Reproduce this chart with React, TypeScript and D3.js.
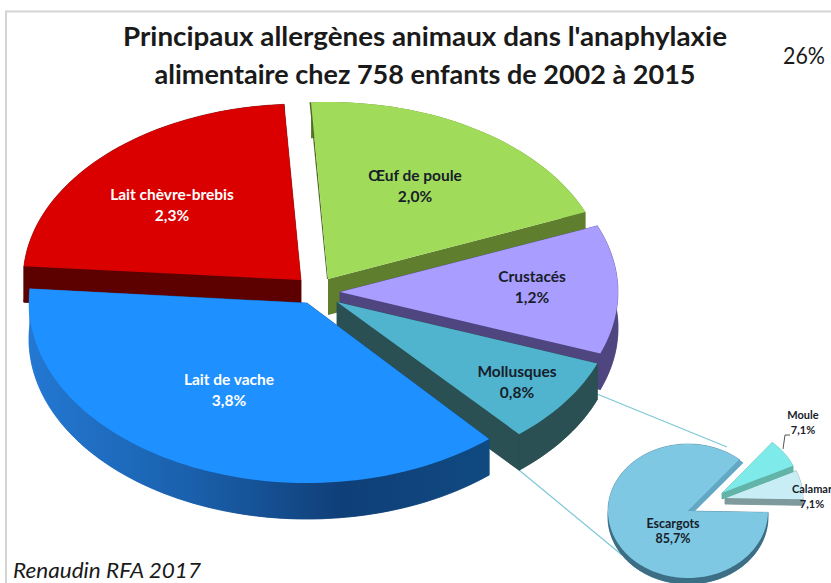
import React from "react";
import * as d3 from "d3";

const titleLines = ["Principaux allergènes animaux dans l'anaphylaxie", "alimentaire chez 758 enfants de 2002 à 2015"];
const cornerNote = "26%";
const sourceNote = "Renaudin RFA 2017";

const mainNames = ["Œuf de poule", "Crustacés", "Mollusques", "Lait de vache", "Lait chèvre-brebis"];
const mainValues = [2.0, 1.2, 0.8, 3.8, 2.3];
const mainLabels = ["2,0%", "1,2%", "0,8%", "3,8%", "2,3%"];

const subNames = ["Moule", "Calamar", "Escargots"];
const subValues = [7.1, 7.1, 85.7];
const subLabels = ["7,1%", "7,1%", "85,7%"];

// appearance, one entry per slice
const mainTop = ["#a0dc5a", "#a99dff", "#50b4cf", "#1e90ff", "#da0000"];
const mainWall = ["#5f7f2e", "#4f4680", "#2a5053", "url(#blueWall)", "#5c0000"];
const mainInk = ["#17202a", "#17202a", "#17202a", "#ffffff", "#ffffff"];
const subTop = ["#7feaea", "#c8edf5", "#7ec8e3"];
const subWall = ["#62b3a8", "#7f9a9c", "#3c6e86"];

// layout
const mainApex = [[328, 279], [340, 292], [337, 302], [307, 303], [301, 280]];
const mainRy = [177, 175, 175, 180, 176];
const mainLabelAt = [[415, 181], [532, 282], [517, 377], [229, 385], [172, 200]];
const subApex = [[722, 493], [725, 498], [688, 511]];
const subLabelAt = [[803, 419], [812, 493], [673, 528]];
const mainDrawOrder = [4, 0, 1, 2, 3];
const subDrawOrder = [2, 1, 0];

type Pt = [number, number];
const rad = (d: number) => (d * Math.PI) / 180;

function shape(apex: number[], a0: number, a1: number, rx: number, ry: number) {
  const n = Math.max(8, Math.ceil(Math.abs(a1 - a0) / 0.03));
  const arc: Pt[] = d3.range(n + 1).map((i) => {
    const t = a0 + ((a1 - a0) * i) / n;
    return [apex[0] + rx * Math.sin(t), apex[1] - ry * Math.cos(t)] as Pt;
  });
  return { arc, apex: apex as Pt };
}
const line = d3.line<Pt>().curve(d3.curveLinear);
const shift = (p: Pt[], dy: number): Pt[] => p.map(([x, y]) => [x, y + dy] as Pt);

function Wedge({ s, depth, top, wall, edge, sideOnly }: any) {
  const wedge: Pt[] = [s.apex, ...s.arc];
  const lower = shift(wedge, depth);
  const last = s.arc[s.arc.length - 1];
  const band: Pt[] = [...s.arc, ...shift(s.arc, depth).reverse()];
  const e0: Pt[] = [s.apex, s.arc[0], shift([s.arc[0]], depth)[0], shift([s.apex], depth)[0]];
  const e1: Pt[] = [s.apex, last, shift([last], depth)[0], shift([s.apex], depth)[0]];
  const faces = sideOnly ? [band, e1] : [lower, band, e0, e1];
  return (
    <g>
      {faces.map((p, i) => (
        <path key={i} d={line(p) + "Z"} fill={wall} stroke={sideOnly ? "none" : wall} strokeWidth={0.5} />
      ))}
      {sideOnly ? (
        <path d={line([[s.apex[0] - 1, s.apex[1]], [s.arc[0][0] - 1.5, s.arc[0][1]], s.arc[0], s.apex])! + "Z"} fill="#4f6b26" />
      ) : null}
      {edge ? (
        <path d={line([s.apex, last, [last[0] + 4, last[1] + 3], [s.apex[0] + 4, s.apex[1] + 3]])! + "Z"} fill={edge} />
      ) : null}
      <path d={line(wedge) + "Z"} fill={top} />
    </g>
  );
}

function Label({ at, name, value, size, gap, ink }: any) {
  return (
    <text x={at[0]} y={at[1]} textAnchor="middle" fontFamily="Lato, 'Open Sans', sans-serif" fontWeight={700} fontSize={size} fill={ink}>
      <tspan x={at[0]}>{name}</tspan>
      <tspan x={at[0]} dy={gap}>{value}</tspan>
    </text>
  );
}

export default function App() {
  const main = d3.pie<number>().sort(null).value((d) => d).startAngle(rad(-3.5)).endAngle(rad(356.5))(mainValues);
  const subArcs = d3.pie<number>().sort(null).value((d) => d).startAngle(rad(40)).endAngle(rad(400))(subValues);
  const mainShapes = main.map((a, i) => shape(mainApex[i], a.startAngle, a.endAngle, 278, mainRy[i]));
  const subShapes = subArcs.map((a, i) => shape(subApex[i], a.startAngle, a.endAngle, i === 2 ? 80 : 78, i === 2 ? 67 : 66));
  return (
    <svg width={831} height={583} style={{ position: "fixed", left: 0, top: 0, background: "#fff" }}>
      <defs>
        <linearGradient id="blueWall" gradientUnits="userSpaceOnUse" x1={30} x2={490} y1={0} y2={0}>
          <stop offset="0" stopColor="#2378d2" />
          <stop offset="0.35" stopColor="#1a60ac" />
          <stop offset="0.68" stopColor="#103f78" />
          <stop offset="1" stopColor="#0f4a80" />
        </linearGradient>
      </defs>
      <path d="M831,11.5H6V583" fill="none" stroke="#d4d4d4" strokeWidth={2} />
      {titleLines.map((t, i) => (
        <text key={t} x={425} y={46 + i * 38} textAnchor="middle" fontFamily="Lato, sans-serif" fontWeight={700} fontSize={27} fill="#1a1a1a" textLength={i === 0 ? 604 : 541} lengthAdjust="spacingAndGlyphs">{t}</text>
      ))}
      <text x={783} y={64} fontFamily="Lato, sans-serif" fontSize={23} fill="#1a1a1a" textLength={42} lengthAdjust="spacingAndGlyphs">{cornerNote}</text>

      <path d={line([[597, 394], [727, 447]])!} stroke="#7cc8d6" strokeWidth={1.2} fill="none" />
      <path d={line([[519, 470], [622, 555]])!} stroke="#7cc8d6" strokeWidth={1.2} fill="none" />

      {mainDrawOrder.map((i) => (
        <Wedge key={i} s={mainShapes[i]} depth={36} top={mainTop[i]} wall={mainWall[i]} sideOnly={i === 0} />
      ))}
      {mainNames.map((n, i) => (
        <Label key={n} at={mainLabelAt[i]} name={n} value={mainLabels[i]} size={15.5} gap={20.5} ink={mainInk[i]} />
      ))}

      {subDrawOrder.map((i) => (
        <Wedge key={i} s={subShapes[i]} depth={6} top={subTop[i]} wall={subWall[i]} edge={i === 2 ? "#62a8c4" : undefined} />
      ))}
      <path d="M783,449L785,435H790" fill="none" stroke="#555" strokeWidth={1} />
      {subNames.map((n, i) => (
        <Label key={n} at={subLabelAt[i]} name={n} value={subLabels[i]} size={i === 2 ? 12.5 : 11} gap={15} ink="#17202a" />
      ))}

      <text x={13} y={577.5} fontFamily="Lato, sans-serif" fontStyle="italic" fontSize={22} fill="#1a1a1a" textLength={188} lengthAdjust="spacingAndGlyphs">{sourceNote}</text>
    </svg>
  );
}
